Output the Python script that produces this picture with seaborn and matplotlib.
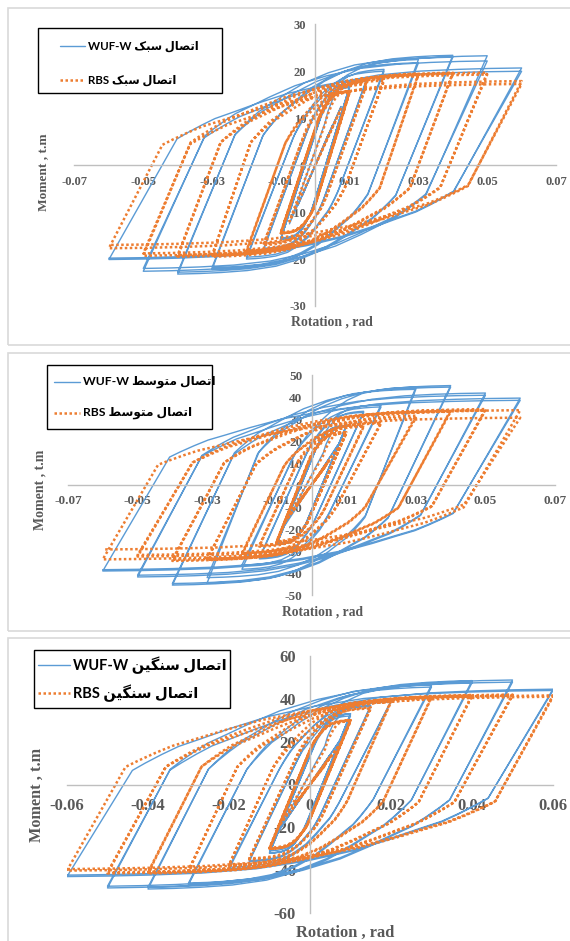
import numpy as np
import pandas as pd
import matplotlib
matplotlib.use('Agg')
import matplotlib.pyplot as plt
import seaborn as sns
from matplotlib.patches import Rectangle
from matplotlib.lines import Line2D

# loading protocol (rad) and number of cycles per level
levels = [0.00375, 0.005, 0.0075, 0.01, 0.015, 0.02, 0.03, 0.04, 0.05, 0.06]
cycles = [6, 6, 6, 4, 2, 2, 2, 2, 2, 2]
# smallest moment fraction where the branch leaves the elastic line (1 = fully elastic level)
yield_floor = [1, 1, 1, 0.55, 0.4, 0, 0, 0, 0, 0]

# peak moments (t.m): first cycle / last cycle of each level
light_wuf_pos1 = [6.5, 8.5, 12.5, 16.8, 18.5, 20.4, 22.5, 23.4, 23.3, 20.7]
light_wuf_pos2 = [6.5, 8.5, 12.5, 16.5, 18.2, 20.0, 21.8, 23.0, 22.2, 20.0]
light_wuf_neg1 = [-6.5, -8.5, -12.5, -15.7, -18.0, -20.0, -22.2, -23.2, -22.6, -20.1]
light_wuf_neg2 = [-6.5, -8.5, -12.5, -15.5, -17.7, -19.6, -21.8, -22.8, -22.0, -19.8]
light_wuf_zero = [0.0004, 0.0007, 0.0015, 0.003, 0.006, 0.0095, 0.0185, 0.027, 0.036, 0.0445]

light_rbs_pos1 = [6.0, 8.0, 12.0, 15.7, 17.5, 18.4, 19.5, 19.7, 19.7, 17.9]
light_rbs_pos2 = [6.0, 8.0, 12.0, 15.5, 17.2, 18.0, 19.2, 19.5, 19.3, 17.3]
light_rbs_neg1 = [-6.0, -8.0, -12.0, -14.5, -17.0, -18.5, -19.5, -19.5, -19.3, -17.7]
light_rbs_neg2 = [-6.0, -8.0, -12.0, -14.3, -16.7, -18.2, -19.2, -19.2, -18.8, -17.0]
light_rbs_zero = [0.0004, 0.0007, 0.0015, 0.0035, 0.0065, 0.011, 0.021, 0.030, 0.039, 0.0475]

mid_wuf_pos1 = [9.0, 12.0, 18.0, 27.0, 33.5, 36.5, 44.5, 45.2, 41.8, 39.5]
mid_wuf_pos2 = [9.0, 12.0, 18.0, 26.5, 33.0, 35.5, 43.5, 44.5, 40.8, 38.5]
mid_wuf_neg1 = [-9.0, -12.0, -18.0, -27.0, -33.6, -38.3, -44.5, -45.5, -41.8, -39.1]
mid_wuf_neg2 = [-9.0, -12.0, -18.0, -26.5, -33.0, -36.4, -42.1, -44.8, -41.0, -38.5]
mid_wuf_zero = [0.0004, 0.0007, 0.0015, 0.003, 0.0055, 0.009, 0.019, 0.0265, 0.036, 0.0455]

mid_rbs_pos1 = [8.0, 11.0, 16.5, 24.0, 27.0, 28.5, 31.5, 34.0, 34.5, 34.0]
mid_rbs_pos2 = [8.0, 11.0, 16.5, 23.5, 26.5, 28.0, 30.5, 33.3, 33.9, 30.6]
mid_rbs_neg1 = [-8.0, -11.0, -16.5, -26.0, -28.0, -31.8, -34.0, -34.5, -32.5, -33.8]
mid_rbs_neg2 = [-8.0, -11.0, -16.5, -25.5, -27.5, -31.0, -33.5, -34.0, -31.8, -29.3]
mid_rbs_zero = [0.0004, 0.0007, 0.0015, 0.0035, 0.007, 0.0105, 0.019, 0.0285, 0.038, 0.0475]

heavy_wuf_pos1 = [10.0, 14.0, 21.0, 33.0, 37.0, 39.0, 46.5, 48.5, 48.8, 44.5]
heavy_wuf_pos2 = [10.0, 14.0, 21.0, 32.0, 36.4, 38.5, 45.5, 47.5, 47.8, 43.9]
heavy_wuf_neg1 = [-10.0, -14.0, -21.0, -32.0, -36.0, -39.5, -46.8, -48.8, -48.3, -43.0]
heavy_wuf_neg2 = [-10.0, -14.0, -21.0, -31.0, -35.5, -38.6, -46.0, -48.0, -47.5, -42.3]
heavy_wuf_zero = [0.0004, 0.0007, 0.0015, 0.003, 0.006, 0.0095, 0.0175, 0.027, 0.0365, 0.046]

heavy_rbs_pos1 = [9.0, 13.0, 19.0, 30.0, 36.0, 39.0, 41.0, 41.8, 42.0, 41.6]
heavy_rbs_pos2 = [9.0, 13.0, 19.0, 29.5, 35.5, 38.5, 40.5, 41.3, 41.5, 41.0]
heavy_rbs_neg1 = [-9.0, -13.0, -19.0, -30.0, -35.0, -38.0, -40.5, -41.5, -41.5, -40.2]
heavy_rbs_neg2 = [-9.0, -13.0, -19.0, -29.5, -34.5, -37.5, -40.0, -41.0, -41.0, -39.5]
heavy_rbs_zero = [0.0004, 0.0007, 0.0015, 0.0035, 0.0065, 0.011, 0.020, 0.029, 0.038, 0.048]

# shape of a post-yield branch (fraction of rotation span / of moment span)
branch_u = [0, 0.03, 0.07, 0.11, 0.16, 0.23, 0.32, 0.43, 0.55, 0.68, 0.80, 0.90, 1.0]
branch_v = [0, 0.09, 0.20, 0.30, 0.39, 0.52, 0.67, 0.80, 0.90, 0.955, 0.98, 0.993, 1.0]

# axis ticks
light_xticks = [-0.07, -0.05, -0.03, -0.01, 0.01, 0.03, 0.05, 0.07]
light_yticks = [-30, -20, -10, 0, 10, 20, 30]
mid_xticks = [-0.07, -0.05, -0.03, -0.01, 0.01, 0.03, 0.05, 0.07]
mid_yticks = [-50, -40, -30, -20, -10, 0, 10, 20, 30, 40, 50]
heavy_xticks = [-0.06, -0.04, -0.02, 0, 0.02, 0.04, 0.06]
heavy_yticks = [-60, -40, -20, 0, 20, 40, 60]

light_labels = ['اتصال سبک WUF-W', 'اتصال سبک RBS']
mid_labels = ['اتصال متوسط WUF-W', 'اتصال متوسط RBS']
heavy_labels = ['اتصال سنگین WUF-W', 'اتصال سنگین RBS']

BLUE = '#5B9BD5'
ORANGE = '#ED7D31'
GRAY = '#595959'
W, H = 570, 941

# --- minimal Persian shaping (matplotlib has no bidi / joining) ---
FORMS = {
    'ا': ('\uFE8D', '\uFE8E', None, None),
    'ب': ('\uFE8F', '\uFE90', '\uFE91', '\uFE92'),
    'ت': ('\uFE95', '\uFE96', '\uFE97', '\uFE98'),
    'س': ('\uFEB1', '\uFEB2', '\uFEB3', '\uFEB4'),
    'ص': ('\uFEB9', '\uFEBA', '\uFEBB', '\uFEBC'),
    'ط': ('\uFEC1', '\uFEC2', '\uFEC3', '\uFEC4'),
    'ل': ('\uFEDD', '\uFEDE', '\uFEDF', '\uFEE0'),
    'م': ('\uFEE1', '\uFEE2', '\uFEE3', '\uFEE4'),
    'ن': ('\uFEE5', '\uFEE6', '\uFEE7', '\uFEE8'),
    'و': ('\uFEED', '\uFEEE', None, None),
    'ک': ('\uFB8E', '\uFB8F', '\uFB90', '\uFB91'),
    'گ': ('\uFB92', '\uFB93', '\uFB94', '\uFB95'),
    'ی': ('\uFBFC', '\uFBFD', '\uFBFE', '\uFBFF'),
}


def shape_word(w):
    out = []
    for i, ch in enumerate(w):
        f = FORMS[ch]
        joins_prev = i > 0 and FORMS[w[i - 1]][2] is not None
        joins_next = i < len(w) - 1 and f[2] is not None
        if joins_prev and joins_next:
            out.append(f[3])
        elif joins_prev:
            out.append(f[1])
        elif joins_next:
            out.append(f[2])
        else:
            out.append(f[0])
    return ''.join(reversed(out))


def rtl(text):
    words = text.split(' ')
    return ' '.join(shape_word(w) if w[0] in FORMS else w for w in reversed(words))


# --- build the cyclic path from the peak tables ---
def add_branch(xs, ys, x0, m0, z, x1, m1, knee):
    if knee >= 1:
        xs.append(x1)
        ys.append(m1)
        return
    k = -m0 / (z - x0)
    mk = knee * m1
    xk = z + mk / k
    xs += [z, xk]
    ys += [0.0, mk]
    for u, v in zip(branch_u[1:], branch_v[1:]):
        xs.append(xk + u * (x1 - xk))
        ys.append(mk + v * (m1 - mk))


def hysteresis(pos1, pos2, neg1, neg2, zero, knee):
    peaks = []
    for a, n, p1, p2, n1, n2, z, fl in zip(levels, cycles, pos1, pos2, neg1, neg2, zero, yield_floor):
        for c in range(n):
            last = c == n - 1
            peaks.append((a, p2 if last else p1, n2 if last else n1, z, max(knee, fl)))
    xs, ys = [0.0], [0.0]
    prev = None
    for a, mp, mn, z, kn in peaks:
        if prev is None:
            xs.append(a)
            ys.append(mp)
        else:
            pa, pmn, pz = prev
            add_branch(xs, ys, -pa, pmn, -pz, a, mp, kn)
        add_branch(xs, ys, a, mp, z, -a, mn, kn)
        prev = (a, mn, z)
    return pd.DataFrame({'rotation': xs, 'moment': ys})


sns.set_theme(style='white')
plt.rcParams['font.family'] = ['Liberation Serif', 'DejaVu Serif']
plt.rcParams['font.weight'] = 'bold'
plt.rcParams['axes.unicode_minus'] = False

fig = plt.figure(figsize=(W / 100, H / 100), dpi=100)
fig.patch.set_facecolor('white')


def px_axes(left, top, right, bottom):
    return fig.add_axes([left / W, 1 - bottom / H, (right - left) / W, (bottom - top) / H])


def panel_border(top, bottom):
    fig.add_artist(Rectangle((8 / W, 1 - bottom / H), 640 / W, (bottom - top) / H,
                             transform=fig.transFigure, facecolor='none',
                             edgecolor='#d9d9d9', lw=1.2))


def draw_legend(box, rows, line_x, text_x, labels, size):
    l, t, r, b = box
    fig.add_artist(Rectangle((l / W, 1 - b / H), (r - l) / W, (b - t) / H,
                             transform=fig.transFigure, facecolor='white',
                             edgecolor='black', lw=1.0, zorder=5))
    styles = [dict(color=BLUE, lw=1.0, ls='-'),
              dict(color=ORANGE, lw=1.8, ls=(0, (1, 1)))]
    for y, lab, st in zip(rows, labels, styles):
        fig.add_artist(Line2D([line_x[0] / W, line_x[1] / W], [1 - y / H, 1 - y / H],
                              transform=fig.transFigure, zorder=6, **st))
        fig.text(text_x / W, 1 - y / H, rtl(lab), fontsize=size, fontweight='bold',
                 family=['Lato', 'DejaVu Sans'], color='black', va='center', ha='left', zorder=6)


def style_axes(ax, xlim, ylim, xticks, yticks, size, tick_len, xpad, ypad):
    ax.set_facecolor('none')
    ax.set_xlim(*xlim)
    ax.set_ylim(*ylim)
    for s in ['top', 'right']:
        ax.spines[s].set_visible(False)
    ax.spines['left'].set_position(('data', 0))
    ax.spines['bottom'].set_position(('data', 0))
    for s in ['left', 'bottom']:
        ax.spines[s].set_color('#bfbfbf')
        ax.spines[s].set_linewidth(1.0)
    ax.set_xticks(xticks)
    ax.set_yticks(yticks)
    ax.set_xticklabels([f'{v:g}' for v in xticks])
    ax.set_yticklabels([f'{v:g}' for v in yticks])
    ax.tick_params(axis='x', direction='inout', length=tick_len, width=1.0, color='#bfbfbf',
                   labelsize=size, labelcolor=GRAY, pad=xpad)
    ax.tick_params(axis='y', direction='inout', length=tick_len, width=1.0, color='#bfbfbf',
                   labelsize=size, labelcolor=GRAY, pad=ypad)
    ax.set_xlabel('')
    ax.set_ylabel('')


def plot_pair(ax, wuf, rbs):
    sns.lineplot(data=wuf, x='rotation', y='moment', sort=False, estimator=None,
                 color=BLUE, lw=1.0, ax=ax)
    sns.lineplot(data=rbs, x='rotation', y='moment', sort=False, estimator=None,
                 color=ORANGE, lw=1.8, linestyle=(0, (1, 1)), ax=ax)


# ---------------- panel 1 : light ----------------
panel_border(8, 345)
ax1 = px_axes(74.5, 24.3, 556, 306)
plot_pair(ax1,
          hysteresis(light_wuf_pos1, light_wuf_pos2, light_wuf_neg1, light_wuf_neg2, light_wuf_zero, 0.28),
          hysteresis(light_rbs_pos1, light_rbs_pos2, light_rbs_neg1, light_rbs_neg2, light_rbs_zero, 0.25))
style_axes(ax1, (-0.07, 0.07), (-30, 30), light_xticks, light_yticks, 9, 5, 5, 4)
fig.text(43 / W, 1 - 172 / H, 'Moment , t.m', rotation=90, fontsize=9.6, color=GRAY,
         ha='center', va='center', fontweight='bold')
fig.text(332 / W, 1 - 322 / H, 'Rotation , rad', fontsize=9.9, color=GRAY,
         ha='center', va='center', fontweight='bold')
draw_legend((38, 28, 222, 93), (46, 80), (60, 85), 88, light_labels, 8.3)

# ---------------- panel 2 : medium ----------------
panel_border(353, 631)
ax2 = px_axes(68, 375, 555, 595)
plot_pair(ax2,
          hysteresis(mid_wuf_pos1, mid_wuf_pos2, mid_wuf_neg1, mid_wuf_neg2, mid_wuf_zero, 0.33),
          hysteresis(mid_rbs_pos1, mid_rbs_pos2, mid_rbs_neg1, mid_rbs_neg2, mid_rbs_zero, 0.3))
style_axes(ax2, (-0.07, 0.07), (-50, 50), mid_xticks, mid_yticks, 9.5, 5, 5, 4)
fig.text(40 / W, 1 - 490 / H, 'Moment , t.m', rotation=90, fontsize=10, color=GRAY,
         ha='center', va='center', fontweight='bold')
fig.text(323 / W, 1 - 612 / H, 'Rotation , rad', fontsize=9.8, color=GRAY,
         ha='center', va='center', fontweight='bold')
draw_legend((46.7, 365, 212, 429), (381.7, 413.3), (54, 80), 82.7, mid_labels, 8.7)

# ---------------- panel 3 : heavy ----------------
panel_border(638, 990)
ax3 = px_axes(67, 656, 553, 913)
plot_pair(ax3,
          hysteresis(heavy_wuf_pos1, heavy_wuf_pos2, heavy_wuf_neg1, heavy_wuf_neg2, heavy_wuf_zero, 0.15),
          hysteresis(heavy_rbs_pos1, heavy_rbs_pos2, heavy_rbs_neg1, heavy_rbs_neg2, heavy_rbs_zero, 0.2))
style_axes(ax3, (-0.06, 0.06), (-60, 60), heavy_xticks, heavy_yticks, 12, 0, 10, 10)
fig.text(36.4 / W, 1 - 795 / H, 'Moment , t.m', rotation=90, fontsize=11.7, color=GRAY,
         ha='center', va='center', fontweight='bold')
fig.text(345 / W, 1 - 932.7 / H, 'Rotation , rad', fontsize=11.8, color=GRAY,
         ha='center', va='center', fontweight='bold')
draw_legend((34, 650, 230, 708), (665, 693), (38, 70), 73, heavy_labels, 10.5)

fig.savefig('out.png', dpi=100)
